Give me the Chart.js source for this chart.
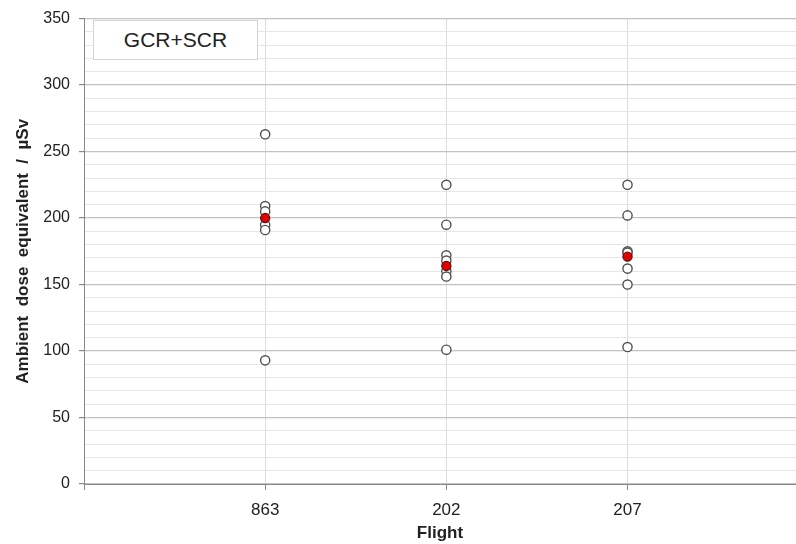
<!DOCTYPE html>
<html>
<head>
<meta charset="utf-8">
<script src="https://cdn.jsdelivr.net/npm/chart.js@4"></script>
<style>
  html, body { margin: 0; background: #fff; overflow: hidden; }
  #wrap { position: relative; width: 796px; height: 544px; overflow: hidden; }
  #doseChart { display: block; }
  #legendBox {
    position: absolute; left: 93px; top: 20px; width: 165px; height: 40px;
    border: 1px solid #d4d4d4; background: #fff; box-sizing: border-box;
    font: 21px "Liberation Sans", Arial, sans-serif; color: #222;
    text-align: center; line-height: 38px;
  }
</style>
</head>
<body>
<div id="wrap">
  <canvas id="doseChart" width="796" height="544"></canvas>
  <div id="legendBox">GCR+SCR</div>
</div>
<script>
// flights on the x axis
const categories = ['863', '202', '207'];

// individual measurements per flight (µSv)
const flight863 = [263, 209, 205, 195, 191, 93];
const flight202 = [225, 195, 172, 168, 160, 156, 101];
const flight207 = [225, 202, 175, 174, 162, 150, 103];

// red marker per flight
const meanValues = [200, 164, 171];

const yTicks = [0, 50, 100, 150, 200, 250, 300, 350];

const X_MAX = 3.93;

const measured = [];
[flight863, flight202, flight207].forEach(function(vals, i) {
    vals.forEach(function(v) { measured.push({ x: i + 1, y: v }); });
});
const means = meanValues.map(function(v, i) { return { x: i + 1, y: v }; });

const ctx = document.getElementById('doseChart').getContext('2d');
new Chart(ctx, {
    type: 'scatter',
    data: {
        datasets: [{
            label: 'measured',
            data: measured,
            order: 2,
            pointRadius: 4.6,
            pointBorderWidth: 1.4,
            pointBorderColor: '#505050',
            pointBackgroundColor: '#fff'
        }, {
            label: 'mean',
            data: means,
            order: 1,
            pointRadius: 4.6,
            pointBorderWidth: 1.2,
            pointBorderColor: '#5a1010',
            pointBackgroundColor: '#e00000'
        }]
    },
    options: {
        responsive: false,
        animation: false,
        layout: { autoPadding: false, padding: { top: 18, right: 0, left: 0, bottom: 0 } },
        plugins: {
            legend: { display: false },
            tooltip: { enabled: false }
        },
        scales: {
            x: {
                type: 'linear',
                min: 0,
                max: X_MAX,
                afterBuildTicks: function(scale) {
                    scale.ticks = [0, 1, 2, 3].map(function(v) { return { value: v }; });
                },
                afterFit: function(scale) {
                    scale.height = 60;
                    scale.paddingLeft = 0;
                    scale.paddingRight = 0;
                },
                ticks: {
                    padding: 10,
                    autoSkip: false,
                    maxRotation: 0,
                    color: '#222',
                    font: { family: 'Liberation Sans', size: 17 },
                    callback: function(v) { return v >= 1 ? categories[v - 1] : ''; }
                },
                grid: {
                    color: '#dcdcdc',
                    tickColor: '#888',
                    tickLength: 6
                },
                border: { color: '#888', width: 1 },
                title: {
                    display: true,
                    text: 'Flight',
                    color: '#222',
                    padding: { top: 0, bottom: 0 },
                    font: { family: 'Liberation Sans', size: 17, weight: 'bold' }
                }
            },
            y: {
                min: 0,
                max: 350,
                afterFit: function(scale) { scale.width = 84; },
                ticks: {
                    stepSize: 10,
                    autoSkip: false,
                    maxTicksLimit: 100,
                    padding: 9,
                    color: '#222',
                    font: { family: 'Liberation Sans', size: 16 },
                    callback: function(v) { return yTicks.indexOf(v) >= 0 ? v : ''; }
                },
                grid: {
                    color: function(c) { return c.tick.value % 50 === 0 ? '#c2c2c2' : '#e6e6e6'; },
                    lineWidth: function(c) { return c.tick.value % 50 === 0 ? 1.2 : 1; },
                    tickColor: function(c) { return c.tick.value % 50 === 0 ? '#888' : 'rgba(0,0,0,0)'; },
                    tickLength: 5
                },
                border: { color: '#888', width: 1 },
                title: {
                    display: true,
                    text: 'Ambient  dose  equivalent  /  µSv',
                    color: '#222',
                    padding: { top: 13, bottom: 0 },
                    font: { family: 'Liberation Sans', size: 17, weight: 'bold' }
                }
            }
        }
    }
});
</script>
</body>
</html>
